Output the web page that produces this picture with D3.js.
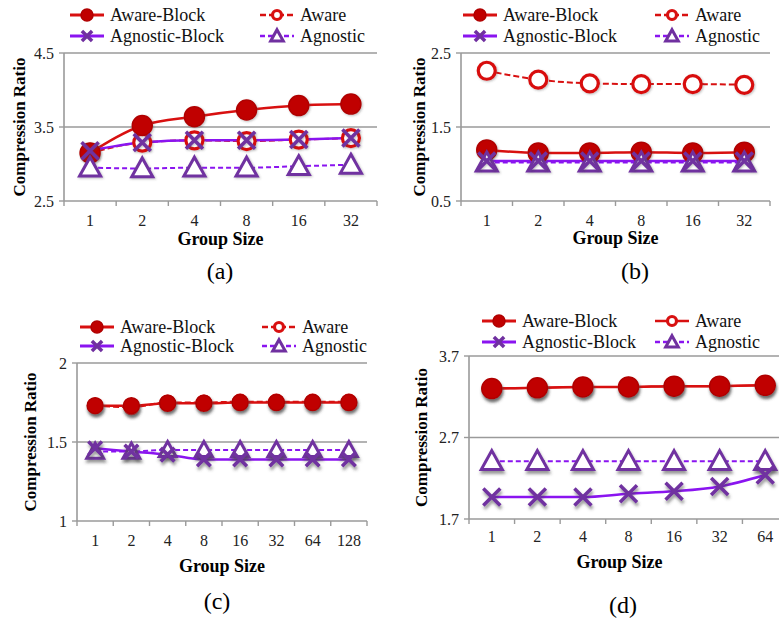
<!DOCTYPE html>
<html>
<head>
<meta charset="utf-8">
<script src="https://cdn.jsdelivr.net/npm/d3@7"></script>
<style>
  body { margin: 0; background: #fff; }
  svg text { font-family: "Liberation Serif", "Times New Roman", Times, serif; }
</style>
</head>
<body>
<div id="chart"></div>
<script>
// group sizes (x categories)
var groupSizes6 = ["1", "2", "4", "8", "16", "32"];
var groupSizes8 = ["1", "2", "4", "8", "16", "32", "64", "128"];
var groupSizes7 = ["1", "2", "4", "8", "16", "32", "64"];

// panel (a)
var aAwareBlock    = [3.15, 3.52, 3.64, 3.73, 3.79, 3.81];
var aAware         = [3.15, 3.29, 3.32, 3.31, 3.33, 3.35];
var aAgnosticBlock = [3.18, 3.29, 3.32, 3.32, 3.33, 3.35];
var aAgnostic      = [2.95, 2.94, 2.95, 2.95, 2.97, 2.99];
var aTicks = [2.5, 3.5, 4.5];

// panel (b)
var bAwareBlock    = [1.19, 1.15, 1.15, 1.16, 1.15, 1.16];
var bAware         = [2.26, 2.14, 2.09, 2.08, 2.08, 2.07];
var bAgnosticBlock = [1.04, 1.04, 1.04, 1.04, 1.04, 1.04];
var bAgnostic      = [1.02, 1.02, 1.02, 1.02, 1.02, 1.02];
var bTicks = [0.5, 1.5, 2.5];

// panel (c)
var cAwareBlock    = [1.73, 1.73, 1.745, 1.745, 1.75, 1.75, 1.75, 1.75];
var cAware         = [1.73, 1.72, 1.75, 1.75, 1.755, 1.755, 1.755, 1.755];
var cAgnosticBlock = [1.46, 1.44, 1.42, 1.39, 1.39, 1.39, 1.39, 1.39];
var cAgnostic      = [1.44, 1.44, 1.45, 1.45, 1.45, 1.45, 1.45, 1.45];
var cTicks = [1, 1.5, 2];

// panel (d)
var dAwareBlock    = [3.30, 3.31, 3.32, 3.32, 3.33, 3.33, 3.34];
var dAware         = [3.30, 3.31, 3.32, 3.32, 3.33, 3.33, 3.34];
var dAgnosticBlock = [1.97, 1.97, 1.97, 2.01, 2.04, 2.10, 2.24];
var dAgnostic      = [2.41, 2.41, 2.41, 2.41, 2.41, 2.41, 2.41];
var dTicks = [1.7, 2.7, 3.7];

var RED = "#d81010", RED_DARK = "#c00000";
var VIOLET = "#8a14f0", PURPLE = "#7030a0";
var FONT = "Liberation Serif";

var W = 779, H = 621;
var svg = d3.select("#chart").append("svg").attr("width", W).attr("height", H);

var defs = svg.append("defs");
function shadow(id, dy, blur, op) {
    var f = defs.append("filter").attr("id", id)
        .attr("x", "-50%").attr("y", "-50%").attr("width", "200%").attr("height", "200%");
    f.append("feDropShadow").attr("dx", 1).attr("dy", dy)
        .attr("stdDeviation", blur).attr("flood-color", "#444").attr("flood-opacity", op);
}
shadow("shLight", 1, 1, 0.35);
shadow("shHeavy", 3, 1.6, 0.55);

var panels = [
    { label: "(a)", cats: groupSizes6, ticks: aTicks, left: 64, right: 377, top: 53, bottom: 201,
      series: [aAware, aAwareBlock, aAgnostic, aAgnosticBlock], r: 10, filter: "shLight",
      tickY: 226, titleY: 245, labelY: 279, yTitleX: 19, labelX: 220,
      legY: [15, 36], legX: [70, 260], awareSolid: false },
    { label: "(b)", cats: groupSizes6, ticks: bTicks, left: 461, right: 770, top: 53, bottom: 201,
      series: [bAware, bAwareBlock, bAgnostic, bAgnosticBlock], r: 10, filter: "shLight",
      tickY: 226, titleY: 244, labelY: 279, yTitleX: 419, labelX: 635,
      legY: [15, 36], legX: [463, 655], awareSolid: false },
    { label: "(c)", cats: groupSizes8, ticks: cTicks, left: 77, right: 367, top: 363, bottom: 521,
      series: [cAware, cAwareBlock, cAgnostic, cAgnosticBlock], r: 8, filter: "shHeavy",
      tickY: 546, titleY: 572, labelY: 609, yTitleX: 30, labelX: 217,
      legY: [327, 346], legX: [80, 262], awareSolid: false },
    { label: "(d)", cats: groupSizes7, ticks: dTicks, left: 469, right: 788, top: 356, bottom: 519,
      series: [dAware, dAwareBlock, dAgnostic, dAgnosticBlock], r: 10, filter: "shHeavy",
      tickY: 542, titleY: 568, labelY: 613, yTitleX: 421, labelX: 623,
      legY: [321, 342], legX: [482, 655], awareSolid: true }
];

// symbol drawing helpers
function drawMarker(g, kind, cx, cy, r, filter) {
    var m = g.append("g").attr("transform", "translate(" + cx + "," + cy + ")");
    if (filter) m.attr("filter", "url(#" + filter + ")");
    if (kind === "filled") {
        m.append("circle").attr("r", r).attr("fill", RED_DARK).attr("stroke", "#b00000").attr("stroke-width", 1.5);
    } else if (kind === "open") {
        m.append("circle").attr("r", r - 1.5).attr("fill", "#fff").attr("stroke", RED).attr("stroke-width", 3.2);
    } else if (kind === "tri") {
        var s = r * 1.05;
        m.append("path").attr("d", "M0," + (-s) + "L" + s + "," + (s * 0.8) + "L" + (-s) + "," + (s * 0.8) + "Z")
            .attr("fill", "#fff").attr("stroke", PURPLE).attr("stroke-width", 3);
    } else if (kind === "x") {
        var k = r * 0.85;
        m.append("path").attr("d", "M" + (-k) + "," + (-k) + "L" + k + "," + k + "M" + (-k) + "," + k + "L" + k + "," + (-k))
            .attr("stroke", PURPLE).attr("stroke-width", 3.5).attr("fill", "none");
    }
}

var seriesStyle = [
    { name: "Aware", kind: "open", color: RED, dash: "6,3", width: 2 },
    { name: "Aware-Block", kind: "filled", color: RED, dash: null, width: 2.5 },
    { name: "Agnostic", kind: "tri", color: VIOLET, dash: "5,3", width: 2 },
    { name: "Agnostic-Block", kind: "x", color: VIOLET, dash: null, width: 2.5 }
];

function txt(g) {
    return g.append("text").attr("font-family", FONT);
}

panels.forEach(function(p) {
    var g = svg.append("g");
    var x = d3.scalePoint().domain(p.cats).range([p.left, p.right]).padding(0.5);
    var band = d3.scaleBand().domain(p.cats).range([p.left, p.right]);
    var y = d3.scaleLinear().domain([p.ticks[0], p.ticks[p.ticks.length - 1]]).range([p.bottom, p.top]);

    // gridlines (bottom one doubles as x axis)
    g.selectAll(".grid").data(p.ticks).enter().append("line")
        .attr("x1", p.left).attr("x2", Math.min(p.right, W))
        .attr("y1", function(d) { return y(d); }).attr("y2", function(d) { return y(d); })
        .attr("stroke", "#9a9a9a").attr("stroke-width", 1.6);

    // y axis
    g.append("line").attr("x1", p.left).attr("x2", p.left).attr("y1", p.top).attr("y2", p.bottom)
        .attr("stroke", "#9a9a9a").attr("stroke-width", 1.6);
    g.selectAll(".yt").data(p.ticks).enter().append("line")
        .attr("x1", p.left - 5).attr("x2", p.left)
        .attr("y1", function(d) { return y(d); }).attr("y2", function(d) { return y(d); })
        .attr("stroke", "#9a9a9a").attr("stroke-width", 1.4);
    g.selectAll(".yl").data(p.ticks).enter().append("text")
        .attr("font-family", FONT)
        .attr("x", p.left - 10).attr("y", function(d) { return y(d) + 5.5; })
        .attr("text-anchor", "end").attr("font-size", 16).attr("fill", "#222")
        .text(function(d) { return d; });

    // x ticks at category boundaries
    var edges = p.cats.map(function(c) { return band(c); }).concat([p.right]);
    g.selectAll(".xt").data(edges).enter().append("line")
        .attr("x1", function(d) { return d; }).attr("x2", function(d) { return d; })
        .attr("y1", p.bottom).attr("y2", p.bottom + 5)
        .attr("stroke", "#9a9a9a").attr("stroke-width", 1.4);
    g.selectAll(".xl").data(p.cats).enter().append("text")
        .attr("font-family", FONT)
        .attr("x", function(d) { return x(d); }).attr("y", p.tickY)
        .attr("text-anchor", "middle").attr("font-size", 16).attr("fill", "#222")
        .text(function(d) { return d; });

    // axis titles and panel label
    txt(g).attr("x", (p.left + Math.min(p.right, 770)) / 2).attr("y", p.titleY)
        .attr("text-anchor", "middle").attr("font-size", 18).attr("font-weight", "bold").text("Group Size");
    txt(g).attr("transform", "translate(" + p.yTitleX + "," + ((p.top + p.bottom) / 2) + ") rotate(-90)")
        .attr("text-anchor", "middle").attr("dy", "0.35em").attr("font-size", 17).attr("font-weight", "bold")
        .text("Compression Ratio");
    txt(g).attr("x", p.labelX).attr("y", p.labelY)
        .attr("text-anchor", "middle").attr("font-size", 24).text(p.label);

    // lines first, then markers
    var line = d3.line().x(function(d, i) { return x(p.cats[i]); }).y(function(d) { return y(d); })
        .curve(d3.curveMonotoneX);
    seriesStyle.forEach(function(s, si) {
        var dash = s.dash;
        if (s.name === "Aware" && p.awareSolid) dash = null;
        g.append("path").datum(p.series[si]).attr("d", line)
            .attr("fill", "none").attr("stroke", s.color).attr("stroke-width", s.width)
            .attr("stroke-dasharray", dash);
    });
    seriesStyle.forEach(function(s, si) {
        p.series[si].forEach(function(v, i) {
            drawMarker(g, s.kind, x(p.cats[i]), y(v), p.r, p.filter);
        });
    });

    // legend
    var legOrder = [
        { s: seriesStyle[1], col: 0, row: 0 },
        { s: seriesStyle[0], col: 1, row: 0 },
        { s: seriesStyle[3], col: 0, row: 1 },
        { s: seriesStyle[2], col: 1, row: 1 }
    ];
    legOrder.forEach(function(l) {
        var lx = p.legX[l.col], ly = p.legY[l.row];
        var dash = l.s.dash;
        if (l.s.name === "Aware" && p.awareSolid) dash = null;
        var lineLen = 34;
        g.append("line").attr("x1", lx).attr("x2", lx + lineLen).attr("y1", ly).attr("y2", ly)
            .attr("stroke", l.s.color).attr("stroke-width", l.s.width + 0.5).attr("stroke-dasharray", dash);
        drawMarker(g, l.s.kind, lx + lineLen / 2, ly, 6, null);
        txt(g).attr("x", lx + lineLen + 6).attr("y", ly + 6)
            .attr("font-size", 18).attr("fill", "#111").text(l.s.name);
    });
});
</script>
</body>
</html>
